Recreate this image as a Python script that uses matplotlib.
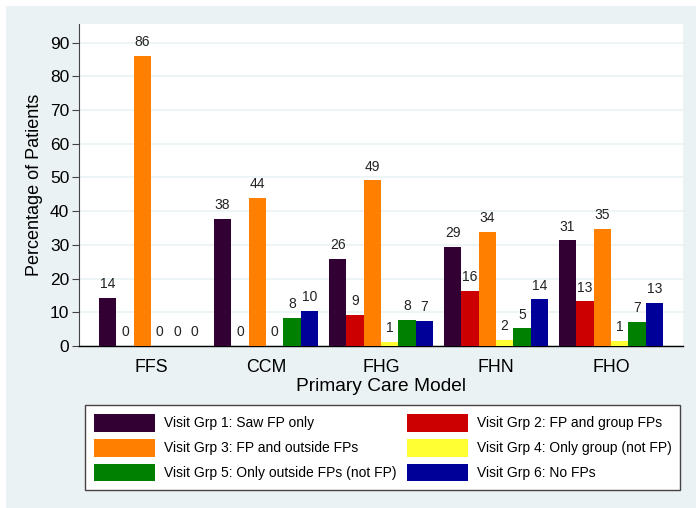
import matplotlib
matplotlib.use("Agg")
import matplotlib.pyplot as plt
from matplotlib.patches import Rectangle, Patch
import numpy as np

plt.rcParams['font.family'] = ['Liberation Sans', 'DejaVu Sans']

# data
models = ["FFS", "CCM", "FHG", "FHN", "FHO"]
grp1 = [14.3, 37.8, 25.9, 29.4, 31.3]
grp2 = [0, 0, 9.2, 16.3, 13.2]
grp3 = [85.9, 43.9, 49.1, 33.9, 34.6]
grp4 = [0, 0, 1.2, 1.8, 1.4]
grp5 = [0, 8.4, 7.6, 5.2, 7.0]
grp6 = [0, 10.3, 7.4, 13.8, 12.9]
group_labels = ["Visit Grp 1: Saw FP only", "Visit Grp 2: FP and group FPs",
                "Visit Grp 3: FP and outside FPs", "Visit Grp 4: Only group (not FP)",
                "Visit Grp 5: Only outside FPs (not FP)", "Visit Grp 6: No FPs"]
colors = ["#330033", "#CC0000", "#FF8000", "#FFFF33", "#008000", "#000099"]
yticks = [0, 10, 20, 30, 40, 50, 60, 70, 80, 90]

bg = "#EAF2F3"
W, H = 696, 508
fig = plt.figure(figsize=(W / 100, H / 100), dpi=100, facecolor='white')
fig.patches.append(Rectangle((6 / W, 0), 1, 1 - 6 / H, transform=fig.transFigure,
                             facecolor=bg, edgecolor='none', zorder=-10))

ax = fig.add_axes([79 / W, 1 - 346 / H, (683 - 79) / W, (346 - 24) / H])
ax.set_zorder(2)
ax.set_facecolor('white')

x = np.arange(len(models))
w = 0.151
series = [grp1, grp2, grp3, grp4, grp5, grp6]
handles = []
for j, vals in enumerate(series):
    pos = x + (j - 2.5) * w
    bars = ax.bar(pos, vals, width=w, color=colors[j], zorder=3, linewidth=0)
    ax.bar_label(bars, labels=["%.0f" % v for v in vals], padding=5, fontsize=10, color='#222222')
    handles.append(Patch(facecolor=colors[j], edgecolor='none', label=group_labels[j]))

ax.set_xlim(-0.626, 4.626)
ax.set_ylim(0, 95.5)
ax.set_yticks(yticks)
ax.set_xticks(x)
ax.set_xticklabels(models, fontsize=12.8)
ax.tick_params(axis='x', length=0, pad=9)
ax.tick_params(axis='y', labelsize=12.5, length=5, width=0.8, color='#444444', pad=2)
ax.yaxis.grid(True, color=bg, linewidth=1.2, zorder=0)
ax.set_axisbelow(True)
for s in ['top', 'right']:
    ax.spines[s].set_visible(False)
ax.spines['left'].set_color('#444444')
ax.spines['left'].set_linewidth(0.8)
ax.spines['bottom'].set_color('black')
ax.spines['bottom'].set_linewidth(1.0)

ax.set_xlabel("Primary Care Model", fontsize=13.8, labelpad=2)
ax.set_ylabel("Percentage of Patients", fontsize=13, labelpad=5)

order = [0, 2, 4, 1, 3, 5]
fs = 10
fpx = fs * 100 / 72
leg = fig.legend([handles[i] for i in order], [group_labels[i] for i in order],
                 ncol=2, loc='upper left',
                 bbox_to_anchor=(85 / W, 1 - 405 / H),
                 borderaxespad=0, fontsize=fs, handlelength=61 / fpx, handleheight=1.6,
                 handletextpad=9 / fpx, labelspacing=0.5, borderpad=0.65,
                 columnspacing=10 / fpx,
                 fancybox=False, framealpha=1, edgecolor='#444444')
leg.get_frame().set_linewidth(1.0)

fig.savefig("out.png", dpi=100, facecolor=fig.get_facecolor())
